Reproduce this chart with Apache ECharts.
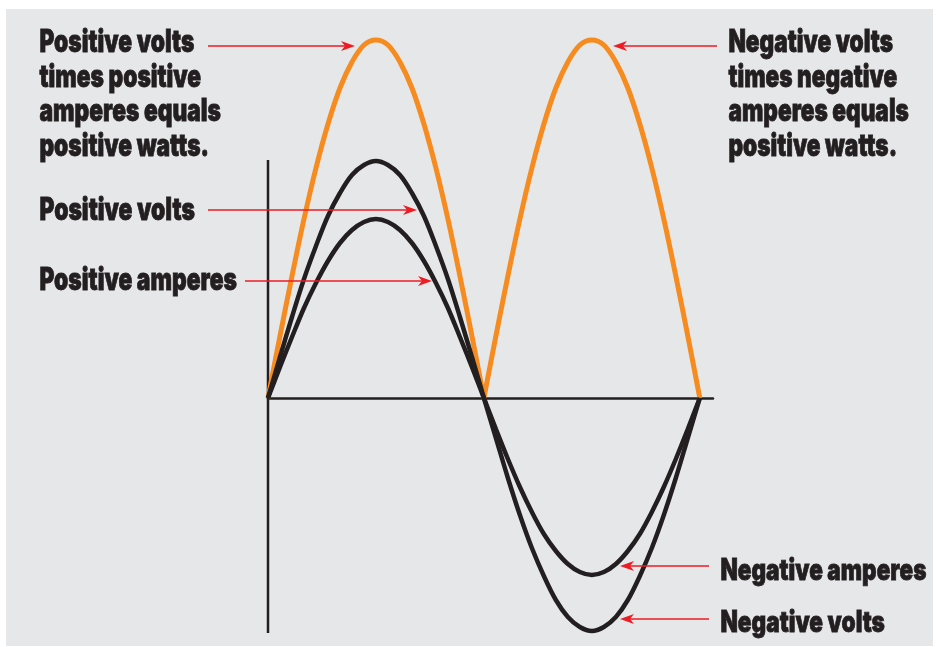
<!DOCTYPE html>
<html><head><meta charset="utf-8">
<script src="https://cdn.jsdelivr.net/npm/echarts@6/dist/echarts.min.js"></script>
<style>html,body{margin:0;padding:0;background:#fff}#c{width:938px;height:647px}</style>
</head><body><div id="c"></div>
<script>
// phase angle in degrees
const angles = [0,10,20,30,40,50,60,70,80,90,100,110,120,130,140,150,160,170,180,190,200,210,220,230,240,250,260,270,280,290,300,310,320,330,340,350,360];
const voltsValues = [0,41,81,119,152,182,205,223,233,237,233,223,205,182,152,119,81,41,0,-40,-80,-117,-150,-178,-202,-219,-229,-233,-229,-219,-202,-178,-150,-117,-80,-40,0];
const ampsValues = [0,31,61,90,115,137,155,168,176,179,176,168,155,137,115,90,61,31,0,-31,-61,-89,-114,-136,-153,-166,-174,-177,-174,-166,-153,-136,-114,-89,-61,-31,0];
const wattsValues = [0,62,122,179,230,274,310,336,353,358,353,336,310,274,230,179,122,62,0,62,122,179,230,274,310,336,353,358,353,336,310,274,230,179,122,62,0];
const verticalAxisAngles = [0,0];
const verticalAxisValues = [-235,238];

const leftLabel = ['Positive volts','times positive','amperes equals','positive watts.'];
const rightLabel = ['Negative volts','times negative','amperes equals','positive watts.'];
const posVoltsLabel = ['Positive volts'];
const posAmpsLabel = ['Positive amperes'];
const negAmpsLabel = ['Negative amperes'];
const negVoltsLabel = ['Negative volts'];

const INK = '#231f20', ORANGE = '#f68b1f', RED = '#ed1c24', PANEL = '#e6e7e8';
const ctx = document.createElement('canvas').getContext('2d');

// pick a family that really has a Black (900) face
function pickFamily(){
  const cands = ['Inter','Lato','Roboto','Noto Sans CJK SC','Open Sans'];
  for (const f of cands){
    ctx.font = '900 100px "' + f + '"'; const w9 = ctx.measureText('Positive amperes').width;
    ctx.font = '700 100px "' + f + '"'; const w7 = ctx.measureText('Positive amperes').width;
    if (Math.abs(w9 - w7) > 0.5) return '"' + f + '", Roboto, sans-serif';
  }
  return 'Roboto, sans-serif';
}
const FAMILY = pickFamily();
const WEIGHT = '900';

function capRatio(){
  ctx.font = WEIGHT + ' 100px ' + FAMILY; ctx.textBaseline = 'alphabetic';
  return ctx.measureText('H').actualBoundingBoxAscent / 100;
}
const CR = capRatio();

const graphics = [];
graphics.push({type:'rect', z:-10, shape:{x:6,y:9,width:927,height:637}, style:{fill:PANEL}});

function addBlock(lines, left, firstBase, gap, cap, refLine, refWidth){
  const fs = cap / CR;
  const font = WEIGHT + ' ' + fs.toFixed(2) + 'px ' + FAMILY;
  ctx.font = font;
  ctx.textBaseline = 'alphabetic';
  const capA = ctx.measureText('H').actualBoundingBoxAscent;
  const w = ctx.measureText(refLine).width;
  ctx.textBaseline = 'middle';
  const a2 = ctx.measureText('H').actualBoundingBoxAscent;
  ctx.textBaseline = 'alphabetic';
  const sx = refWidth / w;
  lines.forEach((t, i) => {
    const base = firstBase + i * gap;
    graphics.push({type:'text', z:100, x:left + 0.4, y: base - capA + a2, scaleX: sx,
      style:{text:t, font:font, fill:INK, stroke:INK, lineWidth:0.8,
        align:'left', textAlign:'left', verticalAlign:'middle', textVerticalAlign:'middle'}});
  });
}
addBlock(leftLabel, 39, 51.7, 34.8, 22.4, 'amperes equals', 181.5);
addBlock(rightLabel, 728, 51.7, 34.8, 22.4, 'amperes equals', 180.5);
addBlock(posVoltsLabel, 39, 220, 0, 22.4, 'Positive volts', 155.5);
addBlock(posAmpsLabel, 39, 290, 0, 22.4, 'Positive amperes', 197.5);
addBlock(negAmpsLabel, 720, 579.5, 0, 21.5, 'Negative amperes', 206);
addBlock(negVoltsLabel, 720, 631.7, 0, 21.5, 'Negative volts', 164.5);

function addArrow(x0, y, tip){
  const d = tip > x0 ? 1 : -1;
  const L = 14, H = 5, N = 10;
  graphics.push({type:'line', z:90, shape:{x1:x0, y1:y, x2:tip - d*N, y2:y}, style:{stroke:RED, lineWidth:1.5}});
  graphics.push({type:'polygon', z:91, shape:{points:[[tip,y],[tip-d*L,y-H],[tip-d*N,y],[tip-d*L,y+H]]}, style:{fill:RED}});
}
addArrow(208, 46, 355);
addArrow(208, 210, 417);
addArrow(245, 281, 432);
addArrow(717, 46, 613);
addArrow(709, 566, 620);
addArrow(709, 619, 620);

function pairs(xs, ys){ return xs.map((x, i) => [x, ys[i]]); }

const SMOOTH = 0.35;
const chart = echarts.init(document.getElementById('c'), null, {renderer:'canvas'});
chart.setOption({
  animation:false,
  backgroundColor:'#ffffff',
  grid:{left:268, width:445, top:38, height:600, containLabel:false},
  xAxis:{type:'value', min:0, max:371,
    axisLine:{show:true, onZero:true, lineStyle:{color:INK, width:2.5}},
    axisTick:{show:false}, axisLabel:{show:false}, splitLine:{show:false}},
  yAxis:{type:'value', min:-240, max:360,
    axisLine:{show:false}, axisTick:{show:false}, axisLabel:{show:false}, splitLine:{show:false}},
  graphic:graphics,
  series:[
    {name:'axis', type:'line', z:1, symbol:'none', silent:true,
      data:pairs(verticalAxisAngles, verticalAxisValues), lineStyle:{color:INK, width:2.5}},
    {name:'Watts (first half)', type:'line', z:2, symbol:'none', smooth:SMOOTH,
      data:pairs(angles.slice(0,19), wattsValues.slice(0,19)), lineStyle:{color:ORANGE, width:5}},
    {name:'Watts (second half)', type:'line', z:2, symbol:'none', smooth:SMOOTH,
      data:pairs(angles.slice(18), wattsValues.slice(18)), lineStyle:{color:ORANGE, width:5}},
    {name:'Amperes', type:'line', z:3, symbol:'none', smooth:SMOOTH,
      data:pairs(angles, ampsValues), lineStyle:{color:INK, width:4.5}},
    {name:'Volts', type:'line', z:3, symbol:'none', smooth:SMOOTH,
      data:pairs(angles, voltsValues), lineStyle:{color:INK, width:4.5}}
  ]
});
</script></body></html>
